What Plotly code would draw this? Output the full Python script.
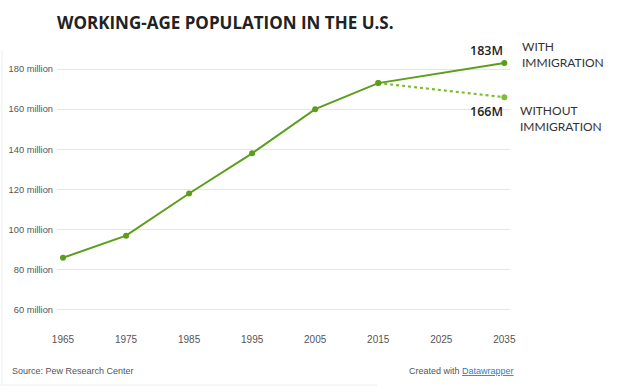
import plotly.graph_objects as go

years_with = [1965, 1975, 1985, 1995, 2005, 2015, 2035]
pop_with = [86, 97, 118, 138, 160, 173, 183]
years_without = [2015, 2035]
pop_without = [173, 166]
x_ticks = [1965, 1975, 1985, 1995, 2005, 2015, 2025, 2035]
y_ticks = [60, 80, 100, 120, 140, 160, 180]
y_tick_labels = [f"{v} million" for v in y_ticks]

c_with = "#5c9e1c"
c_without = "#7dbd32"

fig = go.Figure()
fig.add_trace(go.Scatter(
    x=years_without, y=pop_without, mode="lines+markers",
    line=dict(color=c_without, width=2.2, dash="dot"),
    marker=dict(size=6, color=c_without), hoverinfo="skip", showlegend=False))
fig.add_trace(go.Scatter(
    x=years_with, y=pop_with, mode="lines+markers",
    line=dict(color=c_with, width=2),
    marker=dict(size=6, color=c_with), hoverinfo="skip", showlegend=False))

ann_font = dict(family="Lato, sans-serif", size=12, color="#333")
fig.update_layout(
    width=620, height=392,
    margin=dict(l=57, r=110, t=57, b=66, autoexpand=False),
    paper_bgcolor="white", plot_bgcolor="white",
    xaxis=dict(range=[1964.05, 2035.9], tickvals=x_ticks, showgrid=False,
               zeroline=False, showline=False, ticks="", automargin=False,
               tickfont=dict(family="Liberation Sans, Arial", size=10, color="#555"),
               ticklabelstandoff=6),
    yaxis=dict(range=[52, 186], tickvals=y_ticks, ticktext=y_tick_labels,
               showgrid=True, gridcolor="#e6e6e6", gridwidth=1, zeroline=False,
               showline=False, ticks="", automargin=False,
               tickfont=dict(family="Liberation Sans, Arial", size=9.3, color="#555"),
               ticklabelstandoff=3),
    annotations=[
        dict(text="<b>WORKING-AGE POPULATION IN THE U.S.</b>", xref="paper", yref="paper",
             x=0, y=1, xanchor="left", yanchor="middle", yshift=35, xshift=-2, showarrow=False,
             font=dict(family="Open Sans, sans-serif", size=17, color="#222")),
        dict(text="183M", x=2035, y=183, xanchor="right", yanchor="middle", yshift=13,
             xshift=1, showarrow=False,
             font=dict(family="Open Sans, sans-serif", size=12.5, color="#222", weight=600)),
        dict(text="WITH<br>IMMIGRATION", x=2035, y=183, xanchor="left", yanchor="middle",
             xshift=16, yshift=9, showarrow=False, align="left", font=ann_font),
        dict(text="166M", x=2035, y=166, xanchor="right", yanchor="middle", yshift=-14,
             xshift=1, showarrow=False,
             font=dict(family="Open Sans, sans-serif", size=12.5, color="#222", weight=600)),
        dict(text="WITHOUT<br>IMMIGRATION", x=2035, y=166, xanchor="left", yanchor="middle",
             xshift=14, yshift=-21, showarrow=False, align="left", font=ann_font),
        dict(text="Source: Pew Research Center", xref="paper", yref="paper",
             x=-57/453, y=0, xanchor="left", yanchor="middle", yshift=-45, xshift=10,
             showarrow=False,
             font=dict(family="Liberation Sans, Arial", size=9, color="#555")),
        dict(text="Created with <span style='color:#2a7fc4'><u>Datawrapper</u></span>",
             xref="paper", yref="paper", x=1, y=0, xanchor="right", yanchor="middle",
             yshift=-45, xshift=6, showarrow=False,
             font=dict(family="Liberation Sans, Arial", size=9, color="#555")),
    ],
    shapes=[
        dict(type="line", xref="paper", yref="paper", x0=-55/453, x1=-55/453,
             y0=-59/269, y1=1 + 7/269, line=dict(color="#eeeeee", width=1)),
        dict(type="line", xref="paper", yref="paper", x0=-57/453, x1=320/453,
             y0=-59/269, y1=-59/269, line=dict(color="#eeeeee", width=1)),
    ],
)
fig.write_html("out.html", config={"displayModeBar": False},
               post_script="document.body.style.margin='0';")
